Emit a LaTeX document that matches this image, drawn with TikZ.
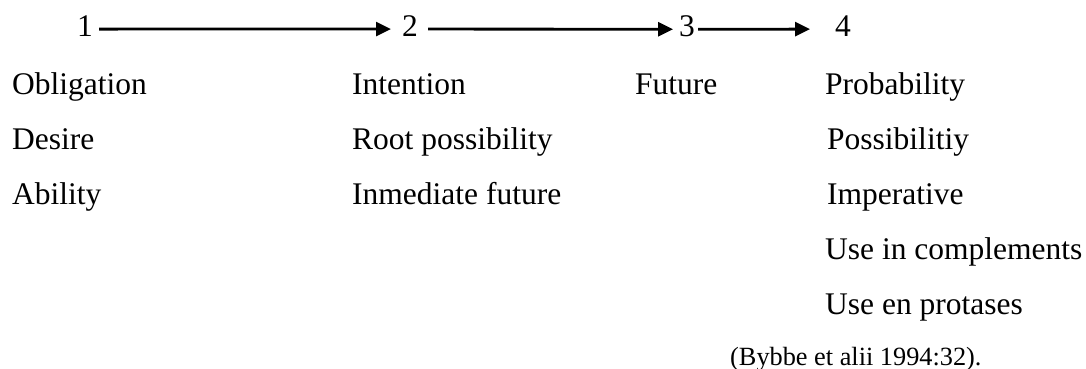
\documentclass[tikz,border=0pt]{standalone}
\usepackage{fontspec}
\setmainfont{Liberation Serif}
\usetikzlibrary{arrows.meta}
\begin{document}
\begin{tikzpicture}[x=1pt,y=-1pt,
  lbl/.style={anchor=base west,inner sep=0pt,font=\fontsize{31.5}{38}\selectfont},
  src/.style={anchor=base west,inner sep=0pt,font=\fontsize{26.3}{32}\selectfont},
  arr/.style={line width=2.8pt,-{Triangle[length=15pt,width=14pt]}}]
\useasboundingbox (0,0) rectangle (1086,369);
% top row
\node[lbl] (n1) at (77,37) {1};
\node[lbl] (n2) at (402,37) {2};
\node[lbl] (n3) at (679,37) {3};
\node[lbl] (n4) at (835,37) {4};
\draw[arr] ([xshift=6pt,yshift=-2.5pt]n1.east) -- ([xshift=-11pt,yshift=-2.5pt]n2.west);
\draw[arr] ([xshift=10pt,yshift=-2.5pt]n2.east) -- ([xshift=-6pt,yshift=-2.5pt]n3.west);
\draw[arr] ([xshift=3pt,yshift=-2.5pt]n3.east) -- ([xshift=-25pt,yshift=-2.5pt]n4.west);
% column 1
\node[lbl] (a1) at (12,94) {Obligation};
\node[lbl] (a2) at (12,149) {Desire};
\node[lbl] (a3) at (12,204) {Ability};
% column 2
\node[lbl] (b1) at (352,94) {Intention};
\node[lbl] (b2) at (352,149) {Root possibility};
\node[lbl] (b3) at (352,204) {Inmediate future};
% column 3
\node[lbl] (c1) at (635,94) {Future};
% column 4
\node[lbl] (d1) at (825,94) {Probability};
\node[lbl] (d2) at (827,149) {Possibilitiy};
\node[lbl] (d3) at (827,204) {Imperative};
\node[lbl] (d4) at (825,259) {Use in complements};
\node[lbl] (d5) at (825,314) {Use en protases};
\node[src] (s) at (730,365) {(Bybbe et alii 1994:32).};
\end{tikzpicture}
\end{document}
